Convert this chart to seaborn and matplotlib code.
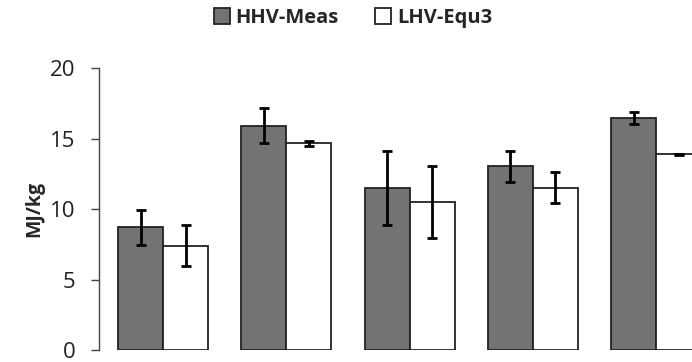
import numpy as np
import pandas as pd
import matplotlib
matplotlib.use("Agg")
import matplotlib.pyplot as plt
import seaborn as sns

# values
samples = ["S1", "S2", "S3", "S4", "S5"]
hhv_meas = [8.7, 15.9, 11.5, 13.05, 16.45]
hhv_err = [1.25, 1.25, 2.6, 1.1, 0.42]
lhv_equ3 = [7.4, 14.65, 10.5, 11.5, 13.88]
lhv_err = [1.45, 0.17, 2.58, 1.1, 0.03]
series = ["HHV-Meas", "LHV-Equ3"]

df = pd.DataFrame({
    "sample": samples * 2,
    "series": [series[0]] * 5 + [series[1]] * 5,
    "value": hhv_meas + lhv_equ3,
    "err": hhv_err + lhv_err,
})

sns.set_style("white")
plt.rcParams["font.family"] = ["Open Sans", "DejaVu Sans"]

fig = plt.figure(figsize=(6.92, 3.62), dpi=100)
ax = fig.add_axes([0.143, 0.033, 0.857, 0.779])

sns.barplot(data=df, x="sample", y="value", hue="series",
            palette={"HHV-Meas": "#767171", "LHV-Equ3": "white"},
            width=0.73, gap=0, errorbar=None, edgecolor="#222222",
            linewidth=1.3, ax=ax)

# error bars on top of each bar
for cont, s in zip(ax.containers, series):
    errs = df.loc[df["series"] == s, "err"].values
    xs = [p.get_x() + p.get_width() / 2 for p in cont.patches]
    ys = [p.get_height() for p in cont.patches]
    ax.errorbar(xs, ys, yerr=errs, fmt="none", ecolor="black",
                elinewidth=2, capsize=3.5, capthick=2, zorder=5)

ax.set_ylim(0, 20)
ax.set_xlim(-0.52, 4.29)
ax.set_yticks([0, 5, 10, 15, 20])
ax.tick_params(axis="y", labelsize=16, length=6, width=1, color="#444444",
               left=True, pad=11, labelcolor="#222222")
ax.set_xticks([])
ax.set_xlabel("")
ax.set_ylabel("MJ/kg", fontsize=14, fontweight="bold", labelpad=4)
for side in ["top", "right", "bottom"]:
    ax.spines[side].set_visible(False)
ax.spines["left"].set_color("#444444")
ax.spines["left"].set_linewidth(1)

handles, labels = ax.get_legend_handles_labels()
ax.legend(handles, labels, loc="center", bbox_to_anchor=(353 / 692, 1 - 18 / 362),
          bbox_transform=fig.transFigure, ncol=2, frameon=False,
          prop={"weight": "bold", "size": 14.5}, handlelength=0.8, handleheight=0.8,
          handletextpad=0.3, columnspacing=1.8)

fig.savefig("out.png", dpi=100)
